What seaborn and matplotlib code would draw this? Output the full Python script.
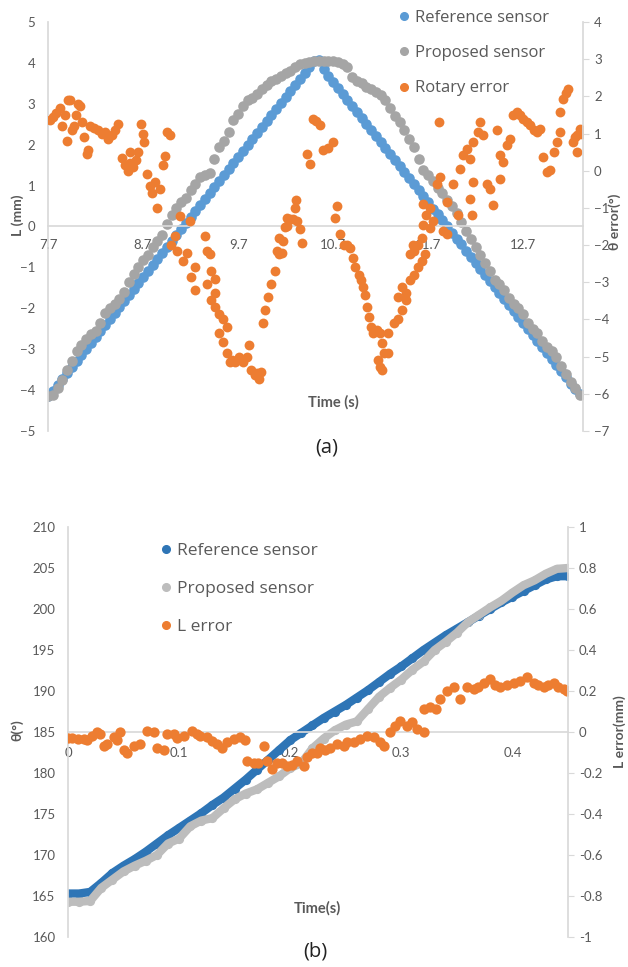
import numpy as np
import pandas as pd
import seaborn as sns
import matplotlib.pyplot as plt
from matplotlib.lines import Line2D

# ---------------- panel (a) data ----------------
time_a = [7.70, 7.75, 7.80, 7.85, 7.90, 7.95, 8.00, 8.05, 8.10, 8.15,
          8.20, 8.25, 8.30, 8.35, 8.40, 8.45, 8.50, 8.55, 8.60, 8.65,
          8.70, 8.75, 8.80, 8.85, 8.90, 8.95, 9.00, 9.05, 9.10, 9.15,
          9.20, 9.25, 9.30, 9.35, 9.40, 9.45, 9.50, 9.55, 9.60, 9.65,
          9.70, 9.75, 9.80, 9.85, 9.90, 9.95, 10.00, 10.05, 10.10, 10.15,
          10.20, 10.25, 10.30, 10.35, 10.40, 10.45, 10.50, 10.55, 10.60, 10.65,
          10.70, 10.75, 10.80, 10.85, 10.90, 10.95, 11.00, 11.05, 11.10, 11.15,
          11.20, 11.25, 11.30, 11.35, 11.40, 11.45, 11.50, 11.55, 11.60, 11.65,
          11.70, 11.75, 11.80, 11.85, 11.90, 11.95, 12.00, 12.05, 12.10, 12.15,
          12.20, 12.25, 12.30, 12.35, 12.40, 12.45, 12.50, 12.55, 12.60, 12.65,
          12.70, 12.75, 12.80, 12.85, 12.90, 12.95, 13.00, 13.05, 13.10, 13.15,
          13.20, 13.25, 13.30]
ref_L = [-4.15, -4.01, -3.87, -3.72, -3.57, -3.43, -3.28, -3.14, -2.99, -2.84,
         -2.70, -2.55, -2.40, -2.26, -2.11, -1.96, -1.82, -1.67, -1.52, -1.38,
         -1.23, -1.08, -0.94, -0.79, -0.64, -0.50, -0.35, -0.21, -0.06, 0.09,
         0.23, 0.38, 0.53, 0.67, 0.82, 0.97, 1.11, 1.26, 1.41, 1.55,
         1.70, 1.85, 1.99, 2.14, 2.29, 2.43, 2.58, 2.72, 2.87, 3.02,
         3.16, 3.31, 3.46, 3.60, 3.75, 3.90, 4.04, 4.06, 3.84, 3.69,
         3.54, 3.39, 3.25, 3.10, 2.95, 2.80, 2.66, 2.51, 2.36, 2.21,
         2.07, 1.92, 1.77, 1.62, 1.48, 1.33, 1.18, 1.03, 0.89, 0.74,
         0.59, 0.44, 0.30, 0.15, 0.00, -0.15, -0.30, -0.44, -0.59, -0.74,
         -0.89, -1.03, -1.18, -1.33, -1.48, -1.62, -1.77, -1.92, -2.07, -2.21,
         -2.36, -2.51, -2.66, -2.80, -2.95, -3.10, -3.25, -3.39, -3.54, -3.69,
         -3.84, -3.98, -4.10]
prop_L = [-4.15, -4.12, -3.95, -3.75, -3.50, -3.30, -3.05, -2.90, -2.75, -2.62,
          -2.55, -2.35, -2.12, -2.00, -1.90, -1.78, -1.60, -1.35, -1.15, -1.00,
          -0.82, -0.70, -0.50, -0.35, -0.20, 0.05, 0.28, 0.45, 0.60, 0.70,
          0.90, 1.05, 1.20, 1.25, 1.30, 1.65, 1.95, 2.10, 2.30, 2.60,
          2.75, 2.95, 3.10, 3.15, 3.25, 3.35, 3.45, 3.55, 3.60, 3.68,
          3.75, 3.80, 3.90, 3.97, 4.00, 4.03, 4.05, 4.05, 4.05, 4.05,
          4.05, 4.02, 3.97, 3.90, 3.65, 3.55, 3.50, 3.42, 3.35, 3.30,
          3.22, 3.10, 2.90, 2.70, 2.55, 2.35, 2.15, 1.95, 1.65, 1.37,
          1.25, 1.12, 0.95, 0.82, 0.65, 0.50, 0.32, 0.10, -0.10, -0.30,
          -0.50, -0.70, -0.90, -1.10, -1.30, -1.40, -1.55, -1.75, -1.90, -2.00,
          -2.15, -2.35, -2.50, -2.60, -2.80, -2.95, -3.05, -3.20, -3.40, -3.60,
          -3.80, -3.95, -4.12]

err_time_a = [7.72, 7.75, 7.78, 7.83, 7.85, 7.88, 7.90, 7.91, 7.93, 7.95,
              7.97, 7.99, 8.02, 8.04, 8.06, 8.08, 8.11, 8.12, 8.14, 8.18,
              8.23, 8.27, 8.30, 8.33, 8.37, 8.41, 8.44, 8.48, 8.51, 8.54,
              8.56, 8.56, 8.59, 8.63, 8.65, 8.68, 8.70, 8.71, 8.74, 8.77,
              8.79, 8.83, 8.85, 8.88, 8.91, 8.93, 8.95, 8.98, 8.99, 9.04,
              9.06, 9.09, 9.12, 9.16, 9.19, 9.21, 9.25, 9.25, 9.35, 9.37,
              9.37, 9.41, 9.42, 9.42, 9.46, 9.46, 9.46, 9.50, 9.50, 9.54,
              9.54, 9.58, 9.58, 9.61, 9.64, 9.67, 9.71, 9.75, 9.79, 9.82,
              9.84, 9.88, 9.90, 9.92, 9.94, 9.96, 9.98, 10.01, 10.05, 10.09,
              10.11, 10.13, 10.13, 10.16, 10.17, 10.19, 10.22, 10.22, 10.25, 10.28,
              10.30, 10.31, 10.32, 10.35, 10.37, 10.43, 10.46, 10.49, 10.52, 10.56,
              10.59, 10.65, 10.70, 10.72, 10.74, 10.77, 10.81, 10.85, 10.88, 10.91,
              10.93, 10.97, 10.99, 11.02, 11.04, 11.06, 11.08, 11.10, 11.12, 11.16,
              11.19, 11.17, 11.19, 11.22, 11.24, 11.28, 11.22, 11.28, 11.34, 11.38,
              11.43, 11.47, 11.38, 11.43, 11.47, 11.51, 11.51, 11.54, 11.55, 11.55,
              11.59, 11.59, 11.64, 11.64, 11.65, 11.67, 11.68, 11.65, 11.72, 11.72,
              11.75, 11.79, 11.81, 11.83, 11.86, 11.90, 11.90, 11.96, 12.01, 12.04,
              12.07, 12.11, 12.14, 12.14, 12.16, 12.17, 12.17, 12.22, 12.25, 12.28,
              12.32, 12.35, 12.38, 12.43, 12.46, 12.46, 12.49, 12.53, 12.56, 12.59,
              12.64, 12.67, 12.70, 12.74, 12.77, 12.81, 12.85, 12.88, 12.91, 12.95,
              12.98, 13.02, 13.06, 13.09, 13.09, 13.12, 13.15, 13.17, 13.23, 13.25,
              13.27, 13.27, 13.30, 13.32]
rot_err = [1.36, 1.45, 1.55, 1.70, 1.20, 1.50, 0.80, 1.90, 1.90, 1.10,
           1.20, 1.50, 1.80, 1.75, 1.30, 0.90, 0.45, 0.55, 1.20, 1.15,
           1.10, 1.00, 1.05, 0.85, 0.95, 1.10, 1.26, 0.35, 0.15, 0.00,
           0.20, 0.50, 0.10, 0.30, 0.50, 1.26, 1.00, 0.78, -0.10, -0.40,
           -0.60, -0.30, -1.00, -0.50, 0.15, 0.40, 1.05, 0.95, -2.00, -1.76,
           -2.17, -1.23, -2.43, -2.20, -1.36, -2.86, -2.60, -3.20, -1.76, -2.17,
           -3.05, -2.25, -2.70, -3.47, -2.90, -3.30, -3.66, -3.85, -4.36, -4.00,
           -4.60, -4.20, -4.90, -5.15, -5.10, -5.15, -5.00, -5.15, -5.00, -4.70,
           -5.35, -5.50, -5.45, -5.60, -5.40, -4.10, -3.75, -3.40, -3.05, -2.70,
           -2.17, -2.25, -1.80, -2.20, -1.90, -1.52, -1.50, -1.28, -1.30, -1.30,
           -1.00, -0.80, -1.36, -1.58, -1.95, 0.45, 0.19, 1.40, 1.35, 1.23,
           0.56, 0.60, 0.78, -1.28, -0.96, -1.70, -2.00, -2.00, -2.08, -2.35,
           -2.60, -2.80, -2.95, -3.13, -3.35, -3.66, -3.93, -4.20, -4.36, -4.28,
           -4.36, -5.08, -5.27, -5.37, -4.90, -4.90, -4.63, -4.36, -4.10, -4.00,
           -3.75, -3.47, -3.40, -3.13, -3.30, -2.95, -2.25, -2.00, -2.80, -2.17,
           -2.60, -2.00, -2.43, -1.80, -1.45, -2.25, -1.18, -0.90, -1.00, -1.55,
           -1.36, -0.37, 1.31, -0.16, -1.63, -0.83, -1.70, -0.37, -1.18, 0.05,
           0.43, 0.59, 0.32, -0.75, -1.18, 0.78, -0.30, 1.04, 1.31, 0.96,
           -0.35, -0.48, -0.91, 1.10, 0.43, -0.21, 0.24, 0.70, 0.86, 1.50,
           1.58, 1.50, 1.40, 1.30, 1.23, 1.10, 1.04, 1.12, 0.37, -0.03,
           0.03, 0.50, 0.78, 1.04, 1.58, 1.93, 2.10, 2.20, 0.78, 0.90,
           0.96, 0.50, 1.12, 1.00]

# ---------------- panel (b) data ----------------
time_b = [0.00, 0.01, 0.02, 0.03, 0.04, 0.05, 0.06, 0.07, 0.08, 0.09,
          0.10, 0.11, 0.12, 0.13, 0.14, 0.15, 0.16, 0.17, 0.18, 0.19,
          0.20, 0.21, 0.22, 0.23, 0.24, 0.25, 0.26, 0.27, 0.28, 0.29,
          0.30, 0.31, 0.32, 0.33, 0.34, 0.35, 0.36, 0.37, 0.38, 0.39,
          0.40, 0.41, 0.42, 0.43, 0.44, 0.45]
ref_theta = [165.3, 165.3, 165.5, 166.6, 167.8, 168.7, 169.5, 170.4, 171.4, 172.4,
             173.3, 174.2, 175.1, 176.1, 177.0, 178.1, 179.2, 180.4, 181.6, 182.8,
             184.0, 184.9, 185.8, 186.7, 187.5, 188.3, 189.2, 190.1, 191.1, 192.1,
             193.0, 194.0, 195.0, 195.9, 196.8, 197.6, 198.4, 199.2, 200.0, 200.8,
             201.5, 202.2, 202.9, 203.6, 204.0, 204.0]
prop_theta = [164.3, 164.3, 164.4, 166.0, 167.0, 168.0, 168.7, 169.3, 170.0, 171.4,
              172.0, 173.5, 174.2, 174.5, 175.7, 176.8, 177.5, 178.0, 178.8, 179.6,
              180.6, 181.2, 183.0, 184.2, 185.2, 185.9, 186.3, 187.8, 189.3, 190.4,
              191.4, 192.6, 193.6, 195.0, 196.0, 197.1, 198.4, 199.3, 200.2, 201.0,
              202.0, 202.9, 203.5, 204.3, 204.9, 205.0]

err_time_b = [0.000, 0.004, 0.009, 0.014, 0.017, 0.022, 0.026, 0.029, 0.032, 0.035,
              0.041, 0.044, 0.047, 0.050, 0.053, 0.059, 0.065, 0.071, 0.077, 0.080,
              0.086, 0.089, 0.095, 0.098, 0.104, 0.112, 0.116, 0.119, 0.125, 0.130,
              0.134, 0.139, 0.143, 0.149, 0.155, 0.159, 0.161, 0.167, 0.171, 0.176,
              0.179, 0.184, 0.188, 0.193, 0.197, 0.202, 0.206, 0.212, 0.215, 0.220,
              0.224, 0.227, 0.231, 0.236, 0.242, 0.248, 0.251, 0.257, 0.263, 0.269,
              0.275, 0.281, 0.284, 0.290, 0.294, 0.299, 0.305, 0.310, 0.314, 0.320,
              0.320, 0.326, 0.331, 0.335, 0.341, 0.347, 0.353, 0.359, 0.365, 0.369,
              0.374, 0.380, 0.384, 0.389, 0.395, 0.401, 0.407, 0.413, 0.419, 0.423,
              0.428, 0.432, 0.437, 0.441, 0.446, 0.449]
L_err = [-0.030, -0.030, -0.035, -0.035, -0.040, -0.020, 0.000, -0.010, -0.070, -0.060,
         -0.025, -0.040, 0.000, -0.090, -0.100, -0.070, -0.060, 0.005, 0.000, -0.080,
         -0.090, -0.010, -0.010, -0.030, -0.020, 0.005, -0.010, -0.020, -0.025, -0.045,
         -0.060, -0.080, -0.050, -0.035, -0.025, -0.040, -0.140, -0.150, -0.150, -0.070,
         -0.140, -0.180, -0.150, -0.150, -0.165, -0.160, -0.140, -0.165, -0.120, -0.100,
         -0.100, -0.080, -0.090, -0.080, -0.060, -0.070, -0.050, -0.050, -0.035, -0.020,
         -0.025, -0.050, -0.070, 0.000, 0.030, 0.055, 0.030, 0.050, 0.015, 0.000,
         0.110, 0.120, 0.110, 0.160, 0.200, 0.220, 0.160, 0.220, 0.210, 0.220,
         0.240, 0.260, 0.230, 0.220, 0.230, 0.240, 0.250, 0.270, 0.240, 0.230,
         0.220, 0.230, 0.240, 0.220, 0.210, 0.200]

TXT = '#595959'
GRID = '#D9D9D9'

sns.set_theme(style='white')
plt.rcParams['font.family'] = ['Lato', 'DejaVu Sans']
LEG_FONT = ['Open Sans', 'DejaVu Sans']

fig = plt.figure(figsize=(6.28, 9.67), dpi=100)
W, H = 628, 967


def px_axes(x0, y0, x1, y1):
    return fig.add_axes([x0 / W, 1 - y1 / H, (x1 - x0) / W, (y1 - y0) / H])


def style_axes(ax, ax2, zero_at, pad_x):
    for s in ['top', 'right']:
        ax.spines[s].set_visible(False)
    ax.spines['left'].set_color(GRID)
    ax.spines['bottom'].set_color(GRID)
    ax.spines['bottom'].set_position(('data', zero_at))
    for s in ['top', 'left', 'bottom']:
        ax2.spines[s].set_visible(False)
    ax2.spines['right'].set_color(GRID)
    ax.tick_params(axis='x', length=0, pad=pad_x, labelsize=9.5, colors=TXT)
    ax.tick_params(axis='y', length=0, pad=9, labelsize=9.5, colors=TXT)
    ax2.tick_params(axis='y', length=4, width=0.8, color=GRID, pad=4,
                    labelsize=9.5, labelcolor=TXT)
    ax.grid(False)
    ax2.grid(False)


# ---------------- panel (a) ----------------
ax = px_axes(48, 22, 583, 431)
ax2 = ax.twinx()
blue_a, gray_a, orange = '#5B9BD5', '#A5A5A5', '#ED7D31'

sns.scatterplot(x=time_a, y=ref_L, ax=ax, color=blue_a, s=58, linewidth=0, legend=False)
sns.scatterplot(x=time_a, y=prop_L, ax=ax, color=gray_a, s=58, linewidth=0, legend=False)
sns.scatterplot(x=err_time_a, y=rot_err, ax=ax2, color=orange, s=50, linewidth=0, legend=False)

ax.set_xlim(7.7, 13.33)
ax.set_ylim(-5, 5)
ax2.set_ylim(-7, 4)
ax.set_xticks([7.7, 8.7, 9.7, 10.7, 11.7, 12.7])
ax.set_xticklabels(['7.7', '8.7', '9.7', '10.7', '11.7', '12.7'])
ax.set_yticks(range(-5, 6))
ax2.set_yticks(range(-7, 5))
style_axes(ax, ax2, 0, 9)

fig.text(18 / W, 1 - 215 / H, 'L (mm)', rotation=90, ha='center', va='center',
         fontsize=10, fontweight='bold', color=TXT)
fig.text(615 / W, 1 - 222 / H, 'θ error(°)', rotation=90, ha='center', va='center',
         fontsize=10, fontweight='bold', color=TXT)
fig.text(333 / W, 1 - 402 / H, 'Time (s)', ha='center', va='center',
         fontsize=10.5, fontweight='bold', color=TXT)
fig.text(327 / W, 1 - 447 / H, '(a)', ha='center', va='center', fontsize=14.5,
         color='#222222', family=LEG_FONT)

handles_a = [Line2D([], [], marker='o', ls='', color=c, markersize=5.5)
             for c in [blue_a, gray_a, orange]]
fig.legend(handles_a, ['Reference sensor', 'Proposed sensor', 'Rotary error'],
           loc='upper left', bbox_to_anchor=(399.5 / W, 1 - 10 / H), frameon=False,
           prop={'family': LEG_FONT, 'size': 12}, labelspacing=1.15,
           handlelength=0.5, handletextpad=0.4,
           borderpad=0, borderaxespad=0, labelcolor=TXT)

# ---------------- panel (b) ----------------
bx = px_axes(68, 527, 568, 937)
bx2 = bx.twinx()
blue_b, gray_b = '#2E75B6', '#BDBDBD'

sns.lineplot(x=time_b, y=ref_theta, ax=bx, color=blue_b, lw=6, estimator=None, sort=False)
sns.scatterplot(x=time_b, y=ref_theta, ax=bx, color=blue_b, s=44, linewidth=0, legend=False)
sns.lineplot(x=time_b, y=prop_theta, ax=bx, color=gray_b, lw=6, estimator=None, sort=False)
sns.scatterplot(x=time_b, y=prop_theta, ax=bx, color=gray_b, s=44, linewidth=0, legend=False)
sns.scatterplot(x=err_time_b, y=L_err, ax=bx2, color=orange, s=55, linewidth=0, legend=False)

bx.set_xlim(0, 0.45)
bx.set_ylim(160, 210)
bx2.set_ylim(-1, 1)
bx.set_xticks([0, 0.1, 0.2, 0.3, 0.4])
bx.set_xticklabels(['0', '0.1', '0.2', '0.3', '0.4'])
bx.set_yticks(range(160, 211, 5))
bx2.set_yticks([-1, -0.8, -0.6, -0.4, -0.2, 0, 0.2, 0.4, 0.6, 0.8, 1])
bx2.set_yticklabels(['-1', '-0.8', '-0.6', '-0.4', '-0.2', '0', '0.2', '0.4', '0.6', '0.8', '1'])
style_axes(bx, bx2, 185, 11)

fig.text(17 / W, 1 - 730 / H, 'θ(°)', rotation=90, ha='center', va='center',
         fontsize=10, fontweight='bold', color=TXT)
fig.text(620 / W, 1 - 732 / H, 'L error(mm)', rotation=90, ha='center', va='center',
         fontsize=10, fontweight='bold', color=TXT)
fig.text(317 / W, 1 - 908 / H, 'Time(s)', ha='center', va='center',
         fontsize=10.5, fontweight='bold', color=TXT)
fig.text(315 / W, 1 - 952 / H, '(b)', ha='center', va='center', fontsize=14.5,
         color='#222222', family=LEG_FONT)

handles_b = [Line2D([], [], marker='o', ls='', color=c, markersize=5.5)
             for c in [blue_b, gray_b, orange]]
fig.legend(handles_b, ['Reference sensor', 'Proposed sensor', 'L error'],
           loc='upper left', bbox_to_anchor=(161.5 / W, 1 - 543 / H), frameon=False,
           prop={'family': LEG_FONT, 'size': 12.5}, labelspacing=1.26,
           handlelength=0.5, handletextpad=0.4,
           borderpad=0, borderaxespad=0, labelcolor=TXT)

fig.savefig('out.png', dpi=100)
